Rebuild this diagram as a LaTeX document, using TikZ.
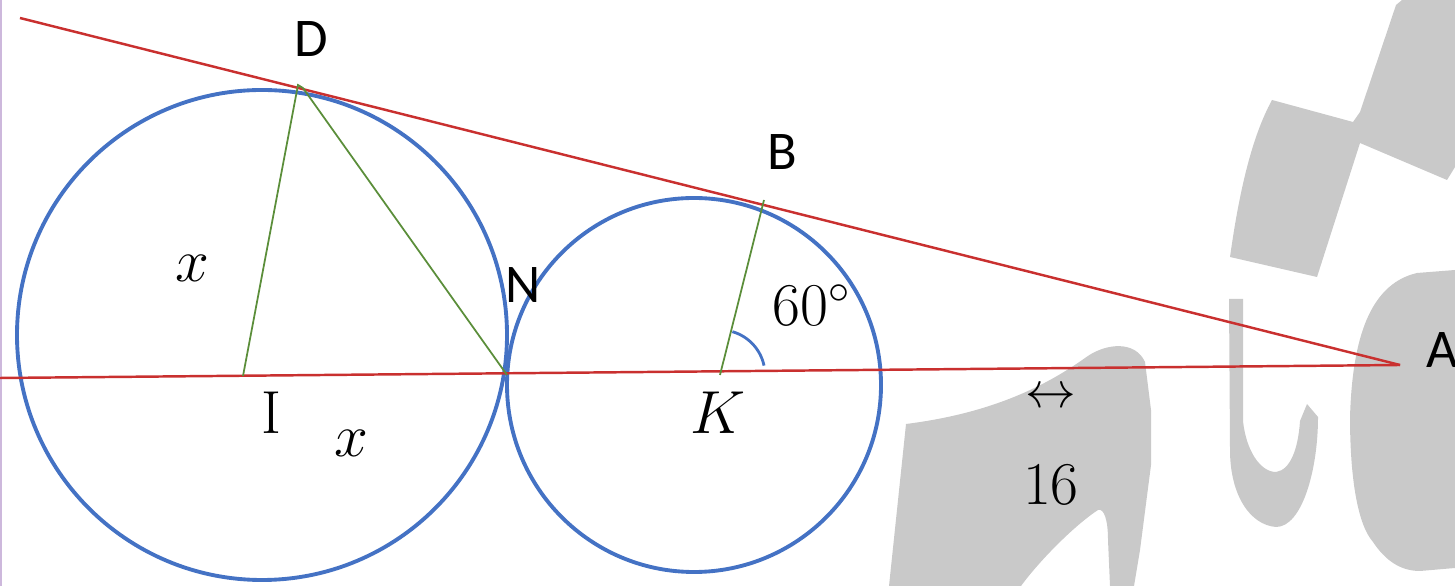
\documentclass[tikz,border=0pt]{standalone}
\usepackage{fontspec}
\newfontfamily\labfont{Carlito}
\definecolor{redl}{HTML}{C9302F}
\definecolor{bluec}{HTML}{4472C4}
\definecolor{greenl}{HTML}{5B8E3A}
\definecolor{wmgray}{HTML}{C9C9C9}
\definecolor{edgec}{HTML}{CDB8DC}
\begin{document}
\begin{tikzpicture}[x=0.01cm,y=-0.01cm,
  wm/.style={fill=wmgray,draw=none},
  redline/.style={draw=redl,line width=0.7pt},
  circ/.style={draw=bluec,line width=1.1pt},
  seg/.style={draw=greenl,line width=0.5pt},
  lab/.style={font=\labfont\fontsize{15.5}{18}\selectfont,inner sep=0pt},
  mlab/.style={font=\fontsize{17.28}{21}\selectfont,inner sep=0pt}]
\useasboundingbox (0,0) rectangle (1455,586);
% watermark
\fill[wm] (906,424) .. controls (985,414) and (1040,390) .. (1085,358)
  .. controls (1105,343) and (1135,340) .. (1145,362)
  -- (1151,410) -- (1151,465) -- (1140,550) -- (1134,586) -- (1110,586) -- (1108,540)
  .. controls (1108,520) and (1104,508) .. (1098,510)
  .. controls (1075,525) and (1040,560) .. (1021,586) -- (889,586) -- cycle;
\fill[wm] (1229,299) -- (1243,299) -- (1243,421)
  .. controls (1246,450) and (1260,472) .. (1276,472)
  .. controls (1290,470) and (1298,450) .. (1300,421) -- (1307,404) -- (1318,417)
  .. controls (1318,470) and (1302,527) .. (1276,527)
  .. controls (1250,525) and (1230,495) .. (1230,450) -- cycle;
\fill[wm] (1272,100) -- (1353,122) -- (1360,112) -- (1396,5) -- (1402,0) -- (1455,0)
  -- (1455,167) -- (1447,180) -- (1360,143) -- (1317,277) -- (1230,257)
  .. controls (1238,200) and (1250,140) .. (1272,100) -- cycle;
\fill[wm] (1455,270) -- (1417,273) .. controls (1365,285) and (1352,350) .. (1350,417)
  .. controls (1350,480) and (1358,525) .. (1373,542)
  .. controls (1385,560) and (1400,571) .. (1420,571) -- (1455,568) -- cycle;
% left edge
\draw[edgec,line width=0.6pt] (1,0) -- (1,586);
% points
\coordinate (Ic) at (262,335);
\coordinate (Kc) at (694,385);
\coordinate (I) at (243,376);
\coordinate (D) at (298,85);
\coordinate (D2) at (303,88);
\coordinate (N) at (507,375);
\coordinate (K) at (720,375);
\coordinate (B) at (764,200);
\coordinate (A) at (1400,365);
\coordinate (L) at (0,378);
\coordinate (T) at (20,18);
% circles
\draw[circ] (Ic) circle[radius=245];
\draw[circ] (Kc) circle[radius=187];
% lines
\draw[redline] (T) -- (A);
\draw[redline] (L) -- (A);
\draw[seg] (I) -- (D) -- (D2) -- (N);
\draw[seg] (K) -- (B);
\draw[draw=bluec,line width=0.8pt] ([shift={(12.4,-43.3)}]K) arc[start angle=-74,end angle=-12,radius=45];
% labels
\node[lab] (lD) at (311,39) {D};
\node[lab] (lB) at (782,152) {B};
\node[lab] (lN) at (523,285) {N};
\node[lab] (lA) at (1442,350) {A};
\node[mlab] (lI) at (271,413) {I};
\node[mlab] (lx1) at (192,268) {$x$};
\node[mlab] (lx2) at (351,443) {$x$};
\node[mlab] (lK) at (718,413) {$K$};
\node[mlab] (l60) at (812,305) {$60^{\circ}$};
\node[mlab,font=\fontsize{14.4}{17}\selectfont] (lar) at (1051,398) {$\leftrightarrow$};
\node[mlab] (l16) at (1051,485) {$16$};
\end{tikzpicture}
\end{document}
